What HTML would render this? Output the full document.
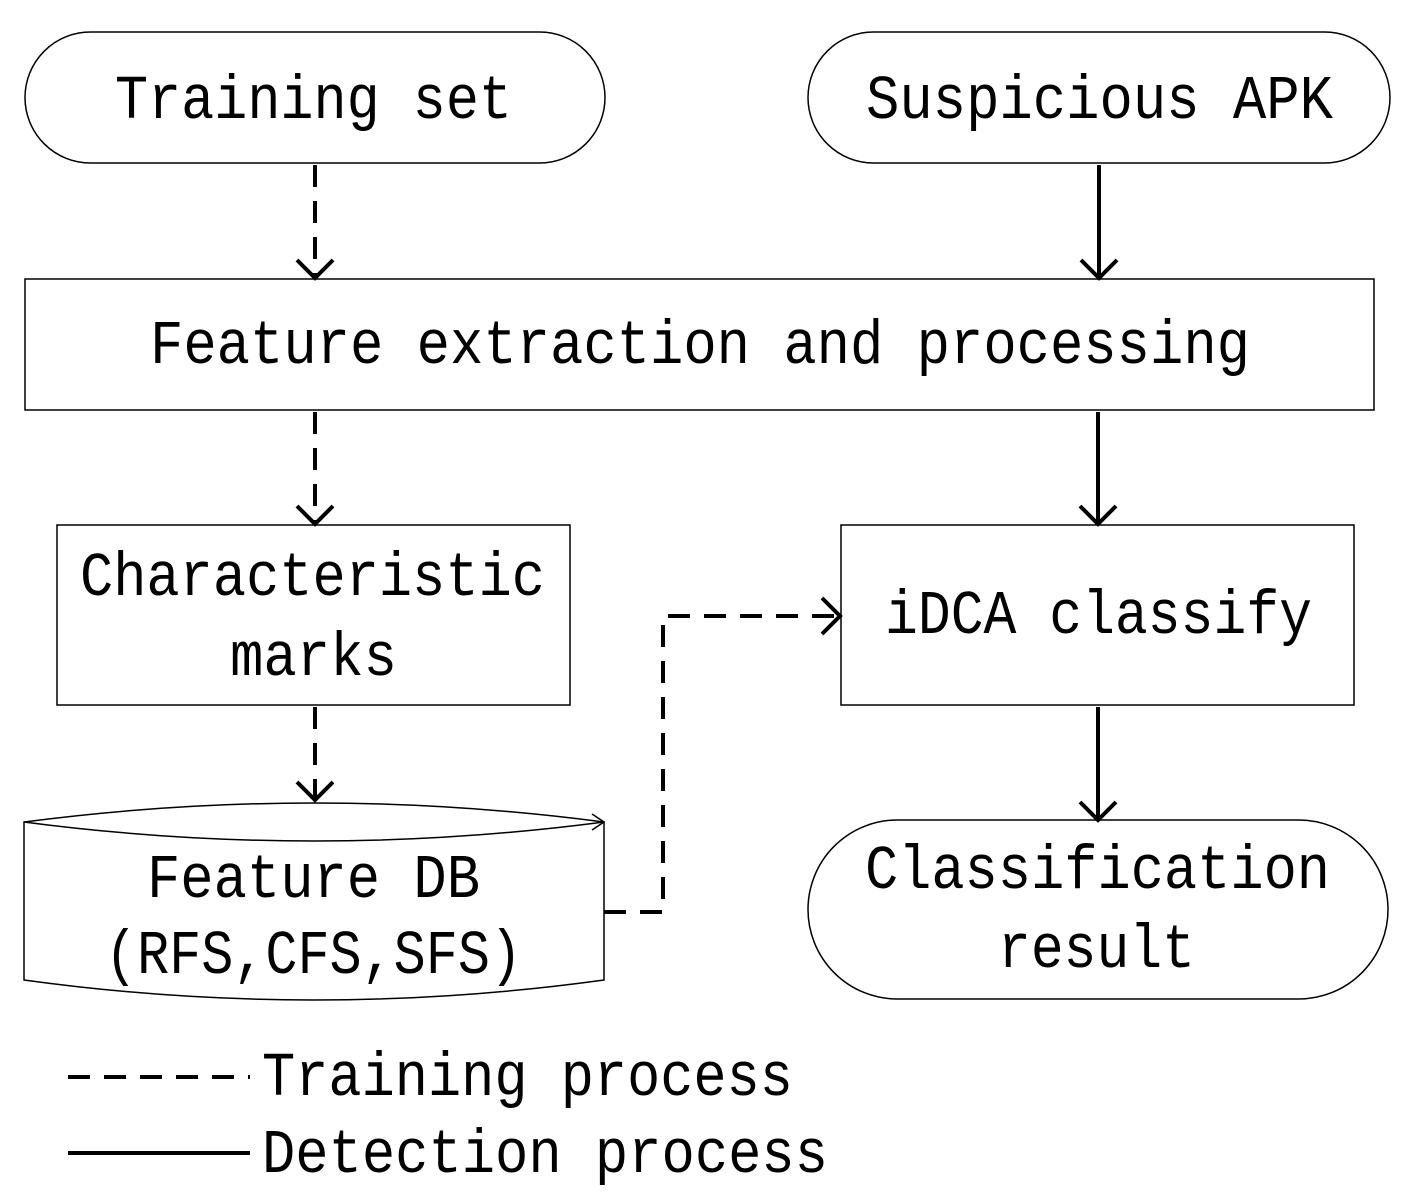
<!DOCTYPE html>
<html><head><meta charset="utf-8"><style>html,body{margin:0;padding:0;background:#fff}svg{display:block}</style></head>
<body>
<svg width="1407" height="1200" viewBox="0 0 1407 1200" xmlns="http://www.w3.org/2000/svg">
<g fill="none" stroke="#000" stroke-width="1.5">
<rect x="25" y="32" width="580" height="131" rx="65.5"/>
<rect x="808" y="32" width="582" height="131" rx="65.5"/>
<rect x="25" y="279" width="1349" height="131"/>
<rect x="57" y="525" width="513" height="180"/>
<rect x="841" y="525" width="513" height="180"/>
<rect x="808" y="820" width="580" height="179" rx="89.5"/>
<path d="M24,822 Q314,784 604,822 L604,980 Q314,1020 24,980 Z"/>
<path d="M24,822 Q314,860 604,822"/>
<path d="M592,814 L604,822 L592,830"/>
</g>
<g fill="none" stroke="#000" stroke-width="4">
<g stroke-dasharray="22,14">
<line x1="315" y1="165" x2="315" y2="276"/>
<line x1="315" y1="412" x2="315" y2="522"/>
<line x1="315" y1="707" x2="315" y2="798"/>
<polyline points="604,912 663,912 663,616 838,616"/>
<line x1="68" y1="1077" x2="250" y2="1077"/>
</g>
<line x1="1099" y1="165" x2="1099" y2="276"/>
<line x1="1098" y1="412" x2="1098" y2="522"/>
<line x1="1098" y1="707" x2="1098" y2="818"/>
<line x1="68" y1="1153" x2="250" y2="1153"/>
<path d="M297,260 L315,278 L333,260"/>
<path d="M297,506 L315,524 L333,506"/>
<path d="M297,782 L315,800 L333,782"/>
<path d="M1081,260 L1099,278 L1117,260"/>
<path d="M1080,506 L1098,524 L1116,506"/>
<path d="M1080,802 L1098,820 L1116,802"/>
<path d="M822,598 L840,616 L822,634"/>
</g>
<g font-family="'Liberation Mono', monospace" font-size="62" fill="#000">
<text x="115" y="118" textLength="397" lengthAdjust="spacingAndGlyphs">Training set</text>
<text x="866" y="118" textLength="467" lengthAdjust="spacingAndGlyphs">Suspicious APK</text>
<text x="150" y="363" textLength="1100" lengthAdjust="spacingAndGlyphs">Feature extraction and processing</text>
<text x="80" y="595" textLength="465" lengthAdjust="spacingAndGlyphs">Characteristic</text>
<text x="230" y="675" textLength="167" lengthAdjust="spacingAndGlyphs">marks</text>
<text x="885" y="633" textLength="427" lengthAdjust="spacingAndGlyphs">iDCA classify</text>
<text x="865" y="888" textLength="465" lengthAdjust="spacingAndGlyphs">Classification</text>
<text x="998" y="967" textLength="197" lengthAdjust="spacingAndGlyphs">result</text>
<text x="147" y="897" textLength="333" lengthAdjust="spacingAndGlyphs">Feature DB</text>
<text x="105" y="973" textLength="417" lengthAdjust="spacingAndGlyphs">(RFS,CFS,SFS)</text>
<text x="262" y="1095" textLength="531" lengthAdjust="spacingAndGlyphs">Training process</text>
<text x="262" y="1172" textLength="566" lengthAdjust="spacingAndGlyphs">Detection process</text>
</g>
</svg>
</body></html>
